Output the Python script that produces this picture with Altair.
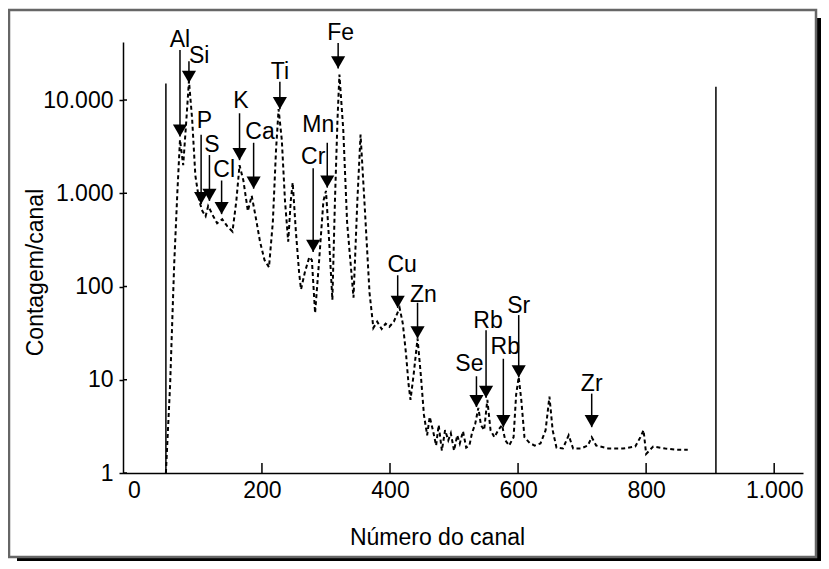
import altair as alt
import pandas as pd

# ---- spectrum (channel number, counts per channel) ----
channel = [
    50, 56.6, 63, 68, 72, 77, 82, 86, 91, 96,
    102, 107, 112, 116, 124, 130, 138, 146, 154, 160,
    165, 171, 178, 184, 190, 197, 204, 211, 217, 222,
    226, 231, 236, 241, 245, 248, 253, 258, 261, 267,
    274, 278, 283, 289, 296, 300, 305, 310, 314, 318,
    321, 327, 333, 343, 349, 354, 360, 368, 374, 380,
    387, 393, 399, 406, 410, 415, 420, 425, 429, 432,
    437, 443, 448, 453, 458, 462, 467, 472, 476, 481,
    486, 491, 495, 500, 505, 509, 514, 519, 524, 528,
    533, 538, 542, 547, 552, 557, 563, 569, 575, 580,
    586, 593, 597, 601, 605, 610, 618, 626, 635, 643,
    649, 654, 660, 670, 679, 686, 698, 709, 715, 722,
    741, 764, 783, 791, 796, 800, 811, 830, 847, 865,
]
counts = [
    1, 8.9, 178, 1060, 3750, 2000, 6200, 16100, 6200, 1550,
    828, 644, 567, 730, 567, 476, 526, 441, 389, 828,
    2000, 1370, 644, 940, 567, 303, 192, 161, 489, 2910,
    7980, 3750, 828, 303, 828, 1300, 389, 142, 93, 142,
    207, 192, 52, 178, 828, 1060, 303, 72, 828, 6200,
    18800, 4800, 489, 76, 828, 4250, 828, 86, 36, 42,
    35, 40, 37, 42, 49, 59, 40, 19, 8.9, 6.1,
    11.5, 27.7, 11.5, 4.2, 2.54, 4.0, 2.88, 1.97, 3.27, 1.74,
    2.88, 2.24, 2.67, 1.74, 2.54, 2.07, 2.8, 1.87, 1.97, 2.67,
    3.35, 5.0, 3.27, 2.88, 6.1, 2.88, 2.42, 2.88, 3.27, 2.24,
    1.97, 2.42, 6.95, 10.7, 6.1, 2.42, 2.1, 1.97, 2.07, 2.88,
    6.6, 2.88, 1.87, 1.83, 2.54, 1.83, 1.83, 1.97, 2.42, 1.97,
    1.83, 1.83, 1.92, 2.42, 2.88, 1.6, 1.92, 1.83, 1.78, 1.78,
]

# ---- element annotations ----
elements = ["Al", "Si", "P", "S", "Cl", "K", "Ca", "Ti", "Cr", "Mn", "Fe",
            "Cu", "Zn", "Se", "Rb", "Rb", "Sr", "Zr"]
arrow_ch = [72, 86, 105, 118, 137, 165, 187, 228, 280, 302, 319,
            412, 443, 535, 550, 577, 601, 715]
arrow_top = [34300, 26000, 4250, 2570, 1370, 7210, 3480, 15700, 1850, 3480, 40900,
             132, 67, 10.9, 33.9, 16.8, 49.4, 7.1]
arrow_tip = [4050, 15300, 767, 828, 597, 2265, 1120, 7980, 235, 1150, 21800,
             59, 27.7, 5.1, 6.4, 3.1, 10.6, 3.1]
label_ch = [72, 102, 110, 122, 141, 167, 197, 228, 280, 288, 323,
            419, 452, 524, 553, 580, 601, 715]
label_val = [44200, 29500, 5890, 3300, 1760, 9750, 4580, 20200, 2440, 5330, 52600,
             170, 82, 14.8, 42.5, 22.6, 62, 8.9]

# ---- region markers (solid vertical lines) ----
roi_ch = [50, 909]
roi_top = [15000, 13900]

# ---- axes ----
x_tick_values = [0, 200, 400, 600, 800, 1000]
x_inner_ticks = [200, 400, 600, 800, 1000]
y_tick_values = [1, 10, 100, 1000, 10000]
x_domain = [-17, 1045]
y_domain = [1, 41900]

W, H = 680, 431
FONT = "Liberation Sans"
FS = 23

spec_df = pd.DataFrame({"ch": channel, "v": counts})
arrow_df = pd.DataFrame({"ch": arrow_ch, "v": arrow_top, "v2": arrow_tip, "el": elements})
tip_df = pd.DataFrame({"ch": arrow_ch, "v": arrow_tip})
label_df = pd.DataFrame({"ch": label_ch, "v": label_val, "el": elements})
roi_df = pd.DataFrame({"ch": roi_ch, "v": roi_top, "v2": [1, 1]})
xt_df = pd.DataFrame({"ch": x_inner_ticks})
yt_df = pd.DataFrame({"v": y_tick_values})

fmt = "replace(format(datum.value, ','), ',', '.')"


def X(field="ch"):
    return alt.X(
        f"{field}:Q",
        scale=alt.Scale(domain=x_domain, nice=False, zero=False),
        axis=alt.Axis(
            values=x_tick_values, labelExpr=fmt, ticks=False, grid=False,
            domainColor="black", domainWidth=1.5, labelPadding=6,
            labelFont=FONT, labelFontSize=FS, labelColor="black",
            title="Número do canal", titleFont=FONT, titleFontSize=FS,
            titleFontWeight="normal", titleColor="black",
            titleX=314, titleY=64, titleBaseline="middle", titleAlign="center",
            zindex=1,
        ),
    )


def Y(field="v"):
    return alt.Y(
        f"{field}:Q",
        scale=alt.Scale(type="log", domain=y_domain, nice=False),
        axis=alt.Axis(
            values=y_tick_values, labelExpr=fmt, grid=False,
            domainColor="black", domainWidth=1.5, tickColor="black", tickWidth=1.5,
            tickSize=4, labelPadding=6,
            labelFont=FONT, labelFontSize=FS, labelColor="black",
            title="Contagem/canal", titleFont=FONT, titleFontSize=FS,
            titleFontWeight="normal", titleColor="black",
            titleX=-88, titleY=230, titleBaseline="middle", titleAlign="center",
            zindex=1,
        ),
    )


one = alt.Data(values=[{"k": 0}])

shadow_right = alt.Chart(one).mark_rect(color="black").encode(
    x=alt.value(693), x2=alt.value(698), y=alt.value(-24), y2=alt.value(519))
shadow_bottom = alt.Chart(one).mark_rect(color="black").encode(
    x=alt.value(-106), x2=alt.value(698), y=alt.value(515), y2=alt.value(519))
border = alt.Chart(one).mark_rect(fillOpacity=0, stroke="#666", strokeWidth=2.5).encode(
    x=alt.value(-114), x2=alt.value(693), y=alt.value(-32), y2=alt.value(515))

roi = alt.Chart(roi_df).mark_rule(color="black", strokeWidth=1.5).encode(
    x=X(), y=Y(), y2="v2:Q")

spectrum = alt.Chart(spec_df).mark_line(
    color="black", strokeWidth=2, strokeDash=[4, 3]).encode(x=X(), y=Y())

arrows = alt.Chart(arrow_df).mark_rule(color="black", strokeWidth=1.5).encode(
    x=X(), y=Y(), y2="v2:Q")

tips = alt.Chart(tip_df).mark_point(
    shape="triangle-down", filled=True, color="black", size=200, opacity=1, yOffset=-6
).encode(x=X(), y=Y())

labels = alt.Chart(label_df).mark_text(
    font=FONT, fontSize=FS, color="black", baseline="middle", align="center"
).encode(x=X(), y=Y(), text="el:N")

xticks = alt.Chart(xt_df).mark_rule(color="black", strokeWidth=1.5).encode(
    x=X(), y=alt.value(H), y2=alt.value(H - 10))

yticks = alt.Chart(yt_df).mark_rule(color="black", strokeWidth=1.5).encode(
    y=Y(), x=alt.value(0), x2=alt.value(4))

chart = alt.layer(
    shadow_right, shadow_bottom, border, roi, spectrum, arrows, tips, labels, xticks, yticks
).properties(
    width=W, height=H,
    padding={"left": 115, "top": 34, "right": 18, "bottom": 88},
    autosize=alt.AutoSizeParams(type="none"),
    background="white",
).configure_view(strokeWidth=0)

chart.save("out.html", embed_options={"renderer": "svg", "actions": False})
